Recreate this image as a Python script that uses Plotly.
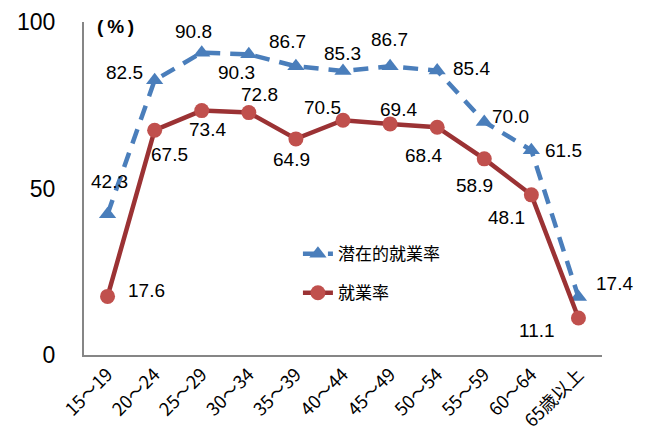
import plotly.graph_objects as go

categories = ["15～19", "20～24", "25～29", "30～34", "35～39", "40～44",
              "45～49", "50～54", "55～59", "60～64", "65歳以上"]
potential = [42.3, 82.5, 90.8, 90.3, 86.7, 85.3, 86.7, 85.4, 70.0, 61.5, 17.4]
employment = [17.6, 67.5, 73.4, 72.8, 64.9, 70.5, 69.4, 68.4, 58.9, 48.1, 11.1]

# label offsets (pixels, +dy = downward) for data labels
pot_off = [(2, -33), (-30, -8), (-8, -21), (-12, 18), (-8, -25), (-1, -17),
           (-1, -27), (34, -2), (26, -5), (32, 0), (36, -14)]
emp_off = [(39, -6), (15, 24), (6, 19), (11, -18), (-4, 21), (-21, -13),
           (8, -14), (-14, 28), (-10, 27), (-25, 23), (-41, 12)]

BLUE = "#4a7ebb"
RED_LINE = "#9b3234"
RED_MARK = "#c0504d"

fig = go.Figure()
fig.add_trace(go.Scatter(
    x=categories, y=potential, name="潜在的就業率", mode="lines+markers",
    legendgroup="a",
    line=dict(color=BLUE, width=4.5, dash="15px,10px"),
    marker=dict(symbol="triangle-up", size=15, color=BLUE),
))
fig.add_trace(go.Scatter(
    x=categories, y=employment, name="就業率", mode="lines+markers",
    legendgroup="b",
    line=dict(color=RED_LINE, width=4.5),
    marker=dict(symbol="circle", size=15, color=RED_MARK),
))

annotations = []
for series, offs in ((potential, pot_off), (employment, emp_off)):
    for c, v, (dx, dy) in zip(categories, series, offs):
        annotations.append(dict(x=c, y=v, xref="x", yref="y", text=f"{v:.1f}",
                                showarrow=False, xshift=dx, yshift=-dy,
                                font=dict(size=19, color="#000000",
                                          family="Liberation Sans")))
annotations.append(dict(x=0.021, y=0.985, xref="paper", yref="paper",
                        text="<b>(&#8201;%&#8201;)</b>",
                        showarrow=False, xanchor="left", yanchor="middle",
                        font=dict(size=19, color="#000000", family="Liberation Sans")))

fig.update_layout(
    width=646, height=441,
    margin=dict(l=84, r=44, t=22, b=86),
    paper_bgcolor="white", plot_bgcolor="white",
    showlegend=True,
    legend=dict(x=0.413, y=0.357, xanchor="left", yanchor="top",
                traceorder="grouped", tracegroupgap=14,
                bgcolor="rgba(0,0,0,0)", font=dict(size=17, color="#000000",
                family="Noto Sans CJK JP")),
    annotations=annotations,
    font=dict(family="Liberation Sans", color="#000000"),
)
fig.update_xaxes(
    range=[-0.5, 10.5],
    showline=True, linecolor="#868686", linewidth=2, mirror=False,
    showgrid=False, ticks="", tickangle=-45, automargin=False,
    tickfont=dict(size=18, family="Noto Sans CJK JP", color="#000000"),
)
fig.update_yaxes(
    range=[0, 100], tickvals=[0, 50, 100], showline=True, linecolor="#868686",
    linewidth=2, showgrid=False, ticks="", zeroline=False, automargin=False,
    ticklabelstandoff=22,
    tickfont=dict(size=23, family="Liberation Sans", color="#000000"),
)

fig.write_html("out.html", config={"displayModeBar": False},
               post_script="document.body.style.margin='0px';document.body.style.overflow='hidden';")
